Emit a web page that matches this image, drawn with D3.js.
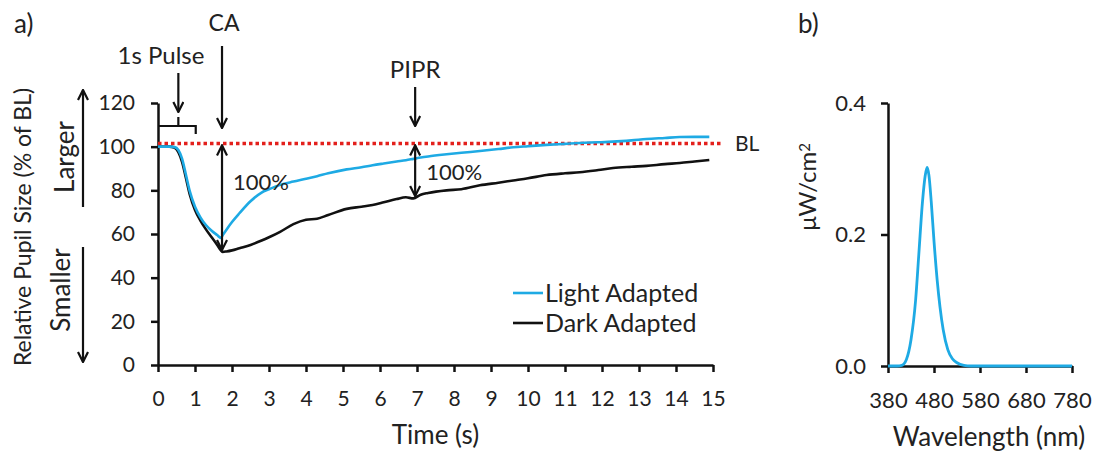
<!DOCTYPE html>
<html>
<head>
<meta charset="utf-8">
<script src="https://cdn.jsdelivr.net/npm/d3@7"></script>
<style>
  body { margin: 0; background: #fff; }
  svg text { font-family: Lato, "Open Sans", sans-serif; fill: #222; }
</style>
</head>
<body>
<svg id="chart" width="1093" height="451"></svg>
<script>
// ---- data ----
const time = [0, 0.3, 0.45, 0.55, 0.65, 0.75, 0.86, 1.0, 1.15, 1.3, 1.45, 1.6, 1.7, 1.75, 1.85, 2.0, 2.2, 2.5, 2.8, 3.0,
    3.3, 3.66, 4.0, 4.3, 4.6, 5.1, 5.5, 5.8, 6.1, 6.45, 6.7, 6.9, 7.1, 7.3, 7.8, 8.2, 8.7, 9.2, 9.6, 10.0,
    10.5, 11.0, 11.4, 11.9, 12.3, 12.8, 13.2, 13.7, 14.1, 14.5, 14.9];
const lightAdapted = [100, 100, 99.8, 98.5, 94.5, 87.5, 79.5, 72.5, 67.5, 64, 61.5, 59.5, 58.2, 59.5, 62, 65.5, 69.5, 75, 79, 80.5,
    82.5, 84, 85.3, 86.5, 87.8, 89.6, 90.6, 91.5, 92.3, 93.2, 93.8, 94.4, 95, 95.5, 96.5, 97.2, 98, 98.9, 99.7, 100.2,
    100.8, 101.3, 101.7, 102, 102.3, 102.9, 103.5, 104, 104.4, 104.5, 104.5];
const darkAdapted = [100, 100, 99.5, 97.5, 93, 86, 78, 71, 66, 62, 58.5, 55, 52.5, 51.8, 52, 52.5, 53.5, 55, 57, 58.5,
    61, 64.5, 66.5, 67, 68.7, 71.5, 72.5, 73.3, 74.5, 76, 76.8, 76.3, 78, 78.8, 80, 80.5, 82.3, 83.5, 84.5, 85.5,
    87, 87.8, 88.3, 89.3, 90.2, 90.8, 91.2, 92, 92.5, 93.2, 93.9];
const baseline = 101.5;
const timeTicks = d3.range(0, 16, 1);
const pupilTicks = [0, 20, 40, 60, 80, 100, 120];

const wavelength = [380, 400, 410, 420, 430, 440, 447, 455, 461, 465, 469, 474, 480, 487, 493, 500, 510, 520, 530, 545, 560, 600, 700, 780];
const irradiance = [0, 0, 0.001, 0.01, 0.04, 0.1, 0.17, 0.25, 0.29, 0.302, 0.29, 0.25, 0.19, 0.13, 0.09, 0.055, 0.025, 0.011, 0.005, 0.001, 0, 0, 0, 0];
const waveTicks = [380, 480, 580, 680, 780];
const irrTicks = [0, 0.2, 0.4];

const CYAN = "#1eaae4";
const RED = "#e3201c";
const FONT_SIZE = 21;

const svg = d3.select("#chart");

// arrow heads
const defs = svg.append("defs");
defs.append("marker")
    .attr("id", "head")
    .attr("viewBox", "0 0 12 12")
    .attr("refX", 11).attr("refY", 6)
    .attr("markerWidth", 12).attr("markerHeight", 12)
    .attr("markerUnits", "userSpaceOnUse")
    .attr("orient", "auto-start-reverse")
    .append("path")
    .attr("d", "M1,1 L11,6 L1,11")
    .attr("fill", "none")
    .attr("stroke", "#111")
    .attr("stroke-width", 2.2);

function arrow(g, x1, y1, x2, y2, both) {
    const l = g.append("line")
        .attr("x1", x1).attr("y1", y1).attr("x2", x2).attr("y2", y2)
        .attr("stroke", "#111").attr("stroke-width", 2.2)
        .attr("marker-end", "url(#head)");
    if (both) l.attr("marker-start", "url(#head)");
    return l;
}

function addLabel(g, txt, px, py, size, anchor, rotate) {
    return g.append("text").text(txt)
        .attr("transform", `translate(${px}, ${py})` + (rotate ? " rotate(-90)" : ""))
        .attr("dy", "0.35em")
        .attr("text-anchor", anchor || "middle")
        .style("font-size", `${size}px`);
}

function styleAxis(g, size) {
    g.select(".domain").attr("stroke", "#111").attr("stroke-width", 2.5);
    g.selectAll(".tick line").attr("stroke", "#111").attr("stroke-width", 2.5);
    g.selectAll(".tick text").style("font-size", `${size}px`).attr("fill", "#222");
}

// ---------- panel a ----------
const x = d3.scaleLinear().domain([0, 15]).range([158, 713]);
const y = d3.scaleLinear().domain([0, 120]).range([365, 103]);

const gx = svg.append("g")
    .attr("transform", `translate(0, ${y(0)})`)
    .call(d3.axisBottom(x).tickValues(timeTicks).tickSize(7).tickSizeOuter(0).tickPadding(19));
styleAxis(gx, FONT_SIZE);

const gy = svg.append("g")
    .attr("transform", `translate(${x(0)}, 0)`)
    .call(d3.axisLeft(y).tickValues(pupilTicks).tickSize(7).tickSizeOuter(0).tickPadding(16));
styleAxis(gy, FONT_SIZE);

// baseline
svg.append("line")
    .attr("x1", x(0)).attr("x2", x(15.25))
    .attr("y1", y(baseline)).attr("y2", y(baseline))
    .attr("stroke", RED).attr("stroke-width", 3.5)
    .attr("stroke-dasharray", "3.5 3");

const line = d3.line().curve(d3.curveMonotoneX);
svg.append("path")
    .attr("d", line(time.map((t, i) => [x(t), y(darkAdapted[i])])))
    .attr("fill", "none").attr("stroke", "#111").attr("stroke-width", 2.6);
svg.append("path")
    .attr("d", line(time.map((t, i) => [x(t), y(lightAdapted[i])])))
    .attr("fill", "none").attr("stroke", CYAN).attr("stroke-width", 2.6);

addLabel(svg, "BL", 735, y(baseline), 21, "start");

// annotations
const ann = svg.append("g");
// 1s pulse bracket
ann.append("path")
    .attr("d", `M${x(0)},126 H${x(1.02)} V134 M${x(0.55)},126 V117`)
    .attr("fill", "none").attr("stroke", "#111").attr("stroke-width", 2.2);
arrow(ann, x(0.55), 73, x(0.55), 112);
addLabel(ann, "1s Pulse", 161, 56, 24);

// CA
const tCA = 1.73;
arrow(ann, x(tCA), 46, x(tCA), 128);
addLabel(ann, "CA", x(tCA) + 2, 23, 23);
arrow(ann, x(tCA), y(baseline) + 2, x(tCA), y(51.8) - 2, true);
addLabel(ann, "100%", x(tCA) + 11, 182, 22, "start");

// PIPR
const tP = 6.95;
arrow(ann, x(tP), 87, x(tP), 126);
addLabel(ann, "PIPR", x(tP), 70, 24);
arrow(ann, x(tP), y(baseline) + 2, x(tP), y(76.5) - 2, true);
addLabel(ann, "100%", x(tP) + 11, 172, 22, "start");

// axis titles
addLabel(svg, "Time (s)", x(7.5), 435, 26);
addLabel(svg, "Relative Pupil Size (% of BL)", 23, 227, 23, "middle", true);
addLabel(svg, "Larger", 65, 157, 26, "middle", true);
addLabel(svg, "Smaller", 61, 290, 26, "middle", true);
arrow(ann, 83, 207, 83, 90);
arrow(ann, 83, 247, 83, 362);

// legend
const legend = svg.append("g").attr("transform", "translate(513, 293)");
const legendItems = [{ name: "Light Adapted", color: CYAN }, { name: "Dark Adapted", color: "#111" }];
legend.selectAll("line").data(legendItems).enter().append("line")
    .attr("x1", 0).attr("x2", 30)
    .attr("y1", (d, i) => i * 30).attr("y2", (d, i) => i * 30)
    .attr("stroke", d => d.color).attr("stroke-width", 2.6);
legend.selectAll("text").data(legendItems).enter().append("text")
    .text(d => d.name)
    .attr("x", 32).attr("y", (d, i) => i * 30).attr("dy", "0.35em")
    .style("font-size", "25px");

addLabel(svg, "a)", 14, 24, 26, "start");

// ---------- panel b ----------
const xb = d3.scaleLinear().domain([380, 780]).range([888, 1072]);
const yb = d3.scaleLinear().domain([0, 0.4]).range([366, 103]);

const gxb = svg.append("g")
    .attr("transform", `translate(0, ${yb(0)})`)
    .call(d3.axisBottom(xb).tickValues(waveTicks).tickSize(7).tickSizeOuter(0).tickPadding(19));
styleAxis(gxb, 22);
const gyb = svg.append("g")
    .attr("transform", `translate(${xb(380)}, 0)`)
    .call(d3.axisLeft(yb).tickValues(irrTicks).tickFormat(d3.format(".1f")).tickSize(7).tickSizeOuter(0).tickPadding(15));
styleAxis(gyb, 22);

svg.append("path")
    .attr("d", d3.line().curve(d3.curveMonotoneX)(wavelength.map((w, i) => [xb(w), yb(irradiance[i])])))
    .attr("fill", "none").attr("stroke", CYAN).attr("stroke-width", 2.8);

addLabel(svg, "Wavelength (nm)", 989, 437, 26);
const unit = addLabel(svg, "", 808, 187, 24, "middle", true);
unit.append("tspan").text("μW/cm");
unit.append("tspan").text("2").attr("dy", "-0.45em").style("font-size", "15px");

addLabel(svg, "b)", 798, 24, 26, "start");
</script>
</body>
</html>
